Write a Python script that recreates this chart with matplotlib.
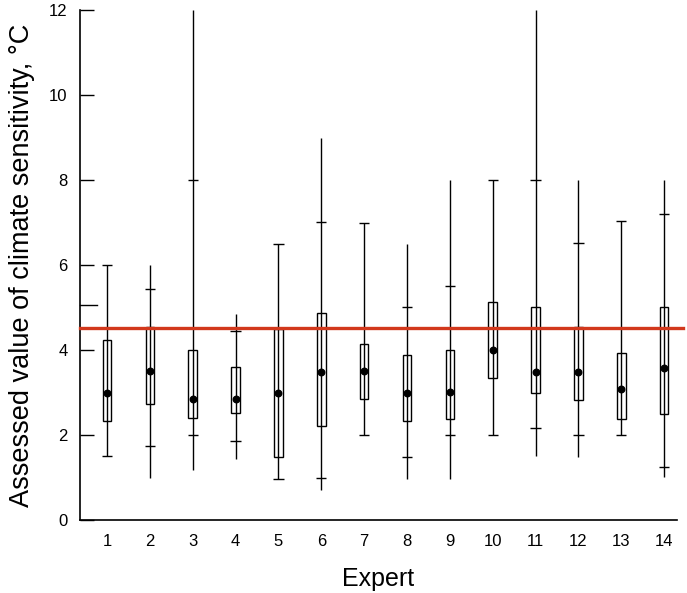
import matplotlib
matplotlib.use("Agg")
import matplotlib.pyplot as plt
from matplotlib.patches import Rectangle

plt.rcParams["font.family"] = ["Liberation Sans", "DejaVu Sans"]

# =====================================================
# Datos (por experto)
# =====================================================
expertos = list(range(1, 15))
minimo = [1.5, 1.0, 1.18, 1.44, 0.97, 0.71, 2.0, 0.97, 0.97, 2.0, 1.5, 1.48, 2.0, 1.01]
p05 = [1.5, 1.74, 2.0, 1.85, 0.97, 1.0, 2.0, 1.48, 2.0, 2.0, 2.17, 2.0, 2.0, 1.24]
q25 = [2.34, 2.72, 2.41, 2.51, 1.48, 2.21, 2.84, 2.34, 2.38, 3.35, 3.0, 2.82, 2.37, 2.5]
mediana = [3.0, 3.5, 2.85, 2.85, 2.98, 3.49, 3.5, 3.0, 3.02, 4.01, 3.49, 3.49, 3.08, 3.58]
q75 = [4.23, 4.53, 3.99, 3.59, 4.5, 4.88, 4.14, 3.89, 4.01, 5.13, 5.01, 4.53, 3.93, 5.01]
p95 = [6.0, 5.43, 8.0, 4.44, 6.49, 7.01, 7.0, 5.01, 5.51, 8.0, 8.0, 6.51, 7.03, 7.2]
maximo = [6.0, 6.0, 12.0, 4.84, 6.49, 9.0, 7.0, 6.49, 8.0, 8.0, 12.0, 8.0, 7.03, 8.0]
referencia = 4.52
yticks = [0, 2, 4, 6, 8, 10, 12]

fig = plt.figure(figsize=(6.87, 5.93), dpi=100)
ax = fig.add_axes([0.1164, 0.1231, 0.869, 0.86])

ancho_caja = 0.2
ancho_cap = 0.24

# lineas verticales (rango completo)
ax.vlines(expertos, minimo, maximo, color="black", lw=1.0, zorder=2)
# marcas de percentiles 5/95
ax.hlines(p05, [x - ancho_cap / 2 for x in expertos], [x + ancho_cap / 2 for x in expertos],
          color="black", lw=1.0, zorder=2)
ax.hlines(p95, [x - ancho_cap / 2 for x in expertos], [x + ancho_cap / 2 for x in expertos],
          color="black", lw=1.0, zorder=2)
# cajas
for x, a, b in zip(expertos, q25, q75):
    ax.add_patch(Rectangle((x - ancho_caja / 2, a), ancho_caja, b - a,
                           fill=False, edgecolor="black", lw=1.0, zorder=3))

# linea de referencia roja
ax.plot([0.37, 14.45], [referencia, referencia], color="#d2381c", lw=2.4, zorder=4, clip_on=False)

# medianas
ax.scatter(expertos, mediana, s=22, color="black", zorder=5)

# marca extra en 5
ax.plot([0.37, 0.77], [5.05, 5.05], color="black", lw=1.0, clip_on=False)

ax.set_xlim(0.37, 14.3)
ax.set_ylim(0, 12)
ax.set_xticks(expertos)
ax.set_yticks(yticks)
ax.spines["top"].set_visible(False)
ax.spines["right"].set_visible(False)
ax.spines["left"].set_linewidth(1.2)
ax.spines["bottom"].set_linewidth(1.2)
ax.tick_params(axis="y", direction="in", length=10, width=1.0, labelsize=12, pad=9)
ax.tick_params(axis="x", length=0, labelsize=12, pad=10)

ax.set_xlabel("Expert", fontsize=18, labelpad=13)
ax.set_ylabel("Assessed value of climate sensitivity, °C", fontsize=19.5, labelpad=10)

fig.savefig("out.png", dpi=100)
